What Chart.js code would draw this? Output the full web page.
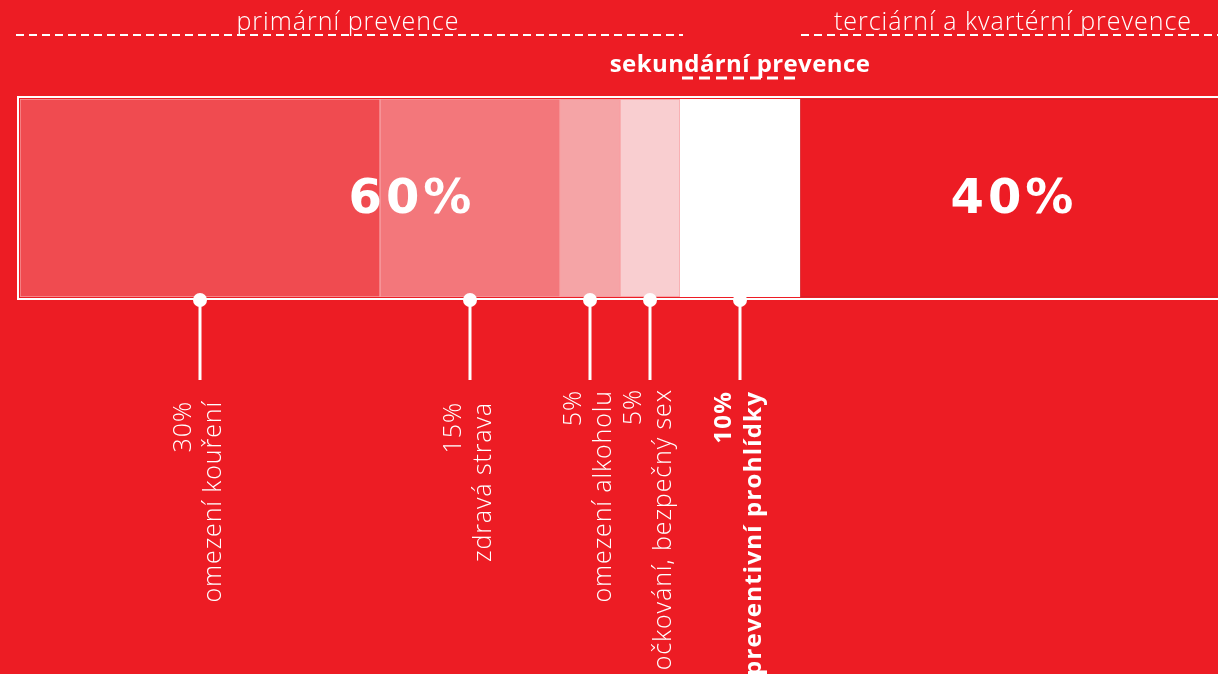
<!DOCTYPE html>
<html>
<head>
<meta charset="utf-8">
<script src="https://cdn.jsdelivr.net/npm/chart.js@4/dist/chart.umd.min.js"></script>
<style>
  html, body { margin: 0; padding: 0; background: #ED1C24; overflow: hidden; width: 1218px; height: 674px; }
  #wrap { width: 1220px; height: 674px; position: relative; }
</style>
</head>
<body>
<div id="wrap"><canvas id="c"></canvas></div>
<script>
// ---- data ----
const categories = ['omezení kouření', 'zdravá strava', 'omezení alkoholu', 'očkování, bezpečný sex', 'preventivní prohlídky', 'terciární a kvartérní prevence'];
const values = [30, 15, 5, 5, 10, 40];
const valueLabels = ['30%', '15%', '5%', '5%', '10%'];
const groupLabels = ['primární prevence', 'sekundární prevence', 'terciární a kvartérní prevence'];
const bigLabels = ['60%', '40%'];

// ---- styles / layout (not data) ----
const segColors = ['#F04B50', '#F3777B', '#F5A4A6', '#F9CED0', '#FFFFFF', '#ED1C24'];
const segBorders = ['rgba(255,255,255,0.55)', 'rgba(255,255,255,0.55)', 'rgba(255,255,255,0.55)', 'rgba(255,255,255,0.55)', '#FFFFFF', 'rgba(190,40,45,0.7)'];
const boldLabel = [false, false, false, false, true];
const labelTop = [401, 402, 390, 389, 391];
const VIEW_W = 1218;

const datasets = values.map((v, i) => ({
  label: categories[i],
  data: [v],
  backgroundColor: segColors[i],
  borderColor: segBorders[i],
  borderWidth: 1,
  borderSkipped: false,
  barPercentage: 1,
  categoryPercentage: 1
}));

const drawPlugin = {
  id: 'annot',
  afterDraw(chart) {
    const ctx = chart.ctx;
    const xs = chart.scales.x;
    const area = chart.chartArea;
    const W = VIEW_W;
    const cum = [];
    let acc = 0;
    values.forEach(v => { cum.push(acc); acc += v; });

    ctx.save();
    // frame
    ctx.strokeStyle = '#FFFFFF';
    ctx.lineWidth = 2;
    ctx.strokeRect(area.left - 2, area.top - 2, W + 20, area.bottom - area.top + 4);

    // markers + rotated labels
    const yb = area.bottom + 3;
    for (let i = 0; i < valueLabels.length; i++) {
      const x = Math.round(xs.getPixelForValue(cum[i] + values[i] / 2));
      ctx.fillStyle = '#FFFFFF';
      ctx.strokeStyle = '#FFFFFF';
      ctx.lineWidth = 3;
      ctx.setLineDash([]);
      ctx.beginPath();
      ctx.moveTo(x, yb);
      ctx.lineTo(x, 380);
      ctx.stroke();
      ctx.beginPath();
      ctx.arc(x, yb, 7, 0, Math.PI * 2);
      ctx.fill();

      ctx.font = boldLabel[i] ? '700 24px "Open Sans"' : '300 25px "Open Sans"';
      ctx.letterSpacing = boldLabel[i] ? '1.2px' : '0.9px';
      ctx.textAlign = 'right';
      ctx.textBaseline = 'middle';
      ctx.save();
      ctx.translate(x - 16, labelTop[i]);
      ctx.rotate(-Math.PI / 2);
      ctx.fillText(valueLabels[i], 0, 0);
      ctx.restore();
      ctx.save();
      ctx.translate(x + 14, labelTop[i]);
      ctx.rotate(-Math.PI / 2);
      ctx.fillText(categories[i], 0, 0);
      ctx.restore();
    }

    // group header dashes
    const pPrimEnd = xs.getPixelForValue(cum[4]);
    const pSecEnd = xs.getPixelForValue(cum[5]);
    ctx.strokeStyle = '#FFFFFF';
    ctx.lineWidth = 2;
    ctx.setLineDash([8, 5]);
    ctx.beginPath();
    ctx.moveTo(16, 35);
    ctx.lineTo(pPrimEnd + 3, 35);
    ctx.stroke();
    ctx.beginPath();
    ctx.moveTo(pSecEnd + 1, 35);
    ctx.lineTo(W, 35);
    ctx.stroke();
    ctx.lineWidth = 3;
    ctx.setLineDash([11, 6]);
    ctx.beginPath();
    ctx.moveTo(pPrimEnd + 2, 78);
    ctx.lineTo(pSecEnd, 78);
    ctx.stroke();
    ctx.setLineDash([]);

    // header texts
    ctx.fillStyle = '#FFFFFF';
    ctx.textAlign = 'center';
    ctx.textBaseline = 'alphabetic';
    ctx.font = '300 25px "Open Sans"';
    ctx.letterSpacing = '1px';
    ctx.fillText(groupLabels[0], (16 + pPrimEnd) / 2, 30);
    ctx.fillText(groupLabels[2], (pSecEnd + W) / 2 + 4, 30);
    ctx.font = '700 24px "Open Sans"';
    ctx.letterSpacing = '0.4px';
    ctx.fillText(groupLabels[1], (pPrimEnd + pSecEnd) / 2, 72);

    // big labels
    ctx.font = '700 48px "DejaVu Sans"';
    ctx.letterSpacing = '4px';
    const c1 = (xs.getPixelForValue(0) + xs.getPixelForValue(cum[5])) / 2;
    const c2 = (xs.getPixelForValue(cum[5]) + xs.getPixelForValue(100)) / 2;
    ctx.fillText(bigLabels[0], c1 + 2, 213);
    ctx.fillText(bigLabels[1], c2 + 4, 213);
    ctx.letterSpacing = '0px';
    ctx.restore();
  }
};

new Chart(document.getElementById('c'), {
  type: 'bar',
  data: { labels: ['prevence'], datasets },
  options: {
    indexAxis: 'y',
    responsive: true,
    maintainAspectRatio: false,
    animation: false,
    layout: { padding: { left: 20, right: 0, top: 99, bottom: 377 } },
    scales: {
      x: { stacked: true, min: 0, max: 100, display: false },
      y: { stacked: true, display: false }
    },
    plugins: { legend: { display: false }, tooltip: { enabled: false } }
  },
  plugins: [drawPlugin]
});
</script>
</body>
</html>
